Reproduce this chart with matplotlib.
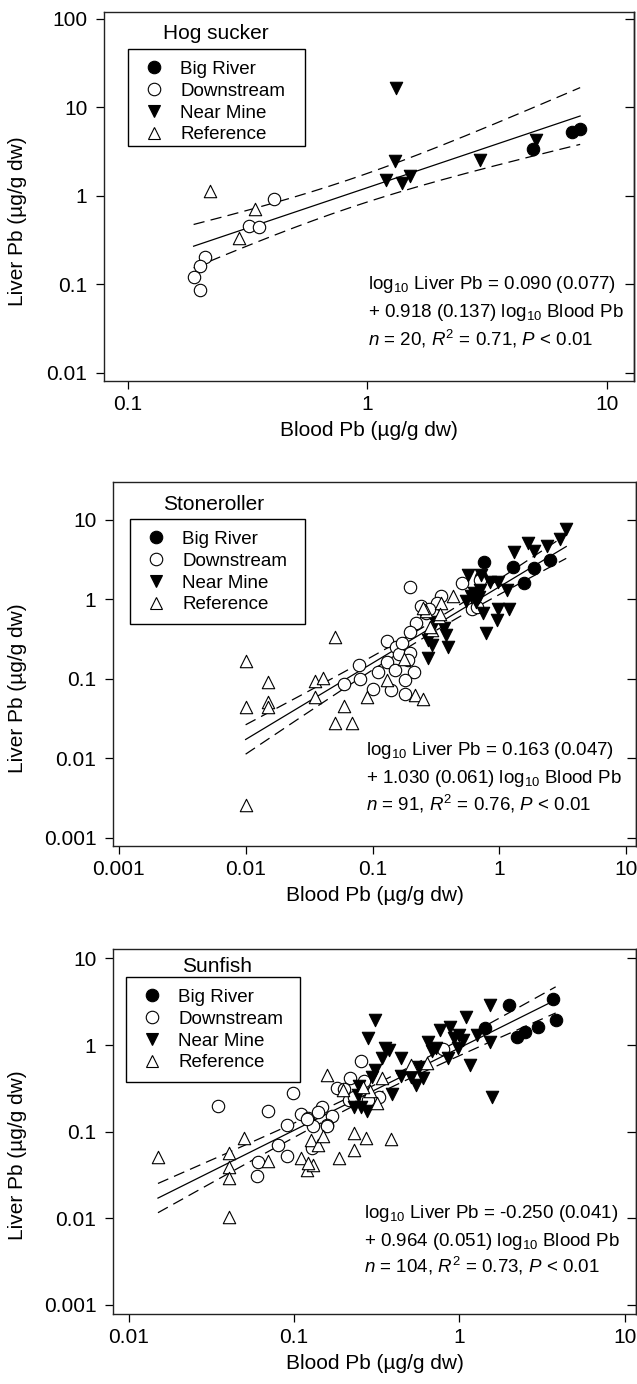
import numpy as np
import matplotlib
matplotlib.use("Agg")
import matplotlib.pyplot as plt
from matplotlib.lines import Line2D
from matplotlib.patches import Rectangle
from matplotlib.ticker import FixedLocator, FuncFormatter, NullLocator

plt.rcParams["font.family"] = ["Liberation Sans", "DejaVu Sans"]
plt.rcParams["mathtext.fontset"] = "custom"
plt.rcParams["mathtext.rm"] = "Liberation Sans"
plt.rcParams["mathtext.it"] = "Liberation Sans:italic"

# ---- Hog sucker
hog_big_x = [7.15, 7.73, 4.91]
hog_big_y = [5.18, 5.65, 3.36]
hog_down_x = [0.409, 0.319, 0.351, 0.209, 0.1995, 0.188, 0.1995]
hog_down_y = [0.915, 0.457, 0.438, 0.203, 0.162, 0.120, 0.085]
hog_near_x = [1.315, 1.30, 1.19, 1.39, 1.50, 2.96, 5.06]
hog_near_y = [16.4, 2.48, 1.49, 1.39, 1.65, 2.50, 4.21]
hog_ref_x = [0.22, 0.340, 0.290]
hog_ref_y = [1.14, 0.711, 0.329]

# ---- Stoneroller
sto_big_x = [0.76, 1.28, 1.88, 2.48, 1.55, 0.71]
sto_big_y = [2.95, 2.55, 2.50, 3.08, 1.62, 1.90]
sto_down_x = [0.198, 0.505, 0.706, 0.344, 0.323, 0.611, 0.262, 0.313, 0.221, 0.198,
              0.129, 0.154, 0.161, 0.198, 0.129, 0.151, 0.211, 0.0789, 0.080, 0.060,
              0.1005, 0.139, 0.179, 0.179, 0.17, 0.24, 0.66, 0.11, 0.19, 0.28]
sto_down_y = [1.42, 1.59, 1.75, 1.11, 0.891, 0.748, 0.667, 0.635, 0.508, 0.392,
              0.302, 0.249, 0.205, 0.213, 0.160, 0.129, 0.120, 0.149, 0.099, 0.0859,
              0.0743, 0.0722, 0.0965, 0.0643, 0.28, 0.82, 0.80, 0.12, 0.17, 0.75]
sto_near_x = [3.36, 2.99, 2.39, 1.67, 1.86, 1.31, 0.566, 0.716, 0.84, 0.98,
              0.631, 0.694, 0.651, 1.15, 0.739, 0.98, 1.19, 0.953, 0.787, 0.313,
              0.367, 0.276, 0.379, 0.392, 0.276, 0.294, 0.70, 0.60, 0.55]
sto_near_y = [7.6, 5.69, 4.69, 5.17, 4.06, 3.98, 2.02, 2.02, 1.67, 1.67,
              1.19, 1.08, 0.935, 1.29, 0.667, 0.748, 0.748, 0.549, 0.380, 0.523,
              0.431, 0.308, 0.356, 0.253, 0.181, 0.266, 1.30, 1.10, 0.95]
sto_ref_x = [0.0100, 0.0100, 0.0100, 0.0150, 0.0150, 0.0150, 0.0502, 0.035, 0.0404, 0.035,
             0.060, 0.0502, 0.0695, 0.0908, 0.1294, 0.177, 0.216, 0.251, 0.264, 0.294,
             0.344, 0.431, 0.284, 0.336, 0.249, 0.34]
sto_ref_y = [0.169, 0.0437, 0.00258, 0.0919, 0.0505, 0.0437, 0.332, 0.0937, 0.103, 0.0595,
             0.0458, 0.028, 0.028, 0.0595, 0.0965, 0.179, 0.0625, 0.0551, 0.713, 0.411,
             0.891, 1.11, 0.447, 0.596, 0.778, 0.655]

# ---- Sunfish
sun_big_x = [3.69, 3.82, 2.0, 1.42, 2.23, 2.5, 2.97]
sun_big_y = [3.44, 1.96, 2.87, 1.58, 1.24, 1.43, 1.60]
sun_down_x = [0.0347, 0.0988, 0.0695, 0.090, 0.1095, 0.121, 0.147, 0.169, 0.158, 0.080,
              0.090, 0.0604, 0.0598, 0.252, 0.181, 0.219, 0.264, 0.214, 0.326, 0.79,
              0.130, 0.140, 0.128, 0.278, 0.119, 0.159, 0.20, 0.23]
sun_down_y = [0.200, 0.283, 0.171, 0.120, 0.161, 0.143, 0.192, 0.150, 0.120, 0.0708,
              0.0529, 0.0443, 0.0306, 0.655, 0.317, 0.413, 0.388, 0.233, 0.254, 0.90,
              0.116, 0.168, 0.064, 0.233, 0.140, 0.117, 0.31, 0.25]
sun_near_x = [0.308, 0.281, 0.355, 0.375, 0.443, 0.342, 0.308, 0.297, 0.246, 0.244,
              0.229, 0.255, 0.277, 0.389, 0.443, 0.546, 0.600, 0.573, 0.643, 0.723,
              0.766, 0.873, 0.852, 1.00, 1.10, 0.98, 1.16, 1.27, 1.53, 1.53,
              1.57, 0.509, 0.93, 1.05, 0.68]
sun_near_y = [1.97, 1.21, 0.914, 0.875, 0.702, 0.702, 0.515, 0.424, 0.337, 0.266,
              0.191, 0.191, 0.171, 0.273, 0.44, 0.347, 0.413, 0.562, 1.09, 0.914,
              1.49, 1.63, 0.702, 1.30, 2.12, 0.914, 0.588, 1.30, 2.88, 1.09,
              0.254, 0.432, 1.2, 1.15, 0.85]
sun_ref_x = [0.015, 0.0403, 0.0403, 0.0403, 0.0403, 0.0494, 0.0695, 0.110, 0.119, 0.130,
             0.127, 0.140, 0.188, 0.229, 0.231, 0.272, 0.388, 0.159, 0.198, 0.289,
             0.319, 0.508, 0.64, 0.338, 0.150, 0.26, 0.122]
sun_ref_y = [0.0515, 0.0102, 0.0563, 0.0395, 0.0289, 0.0839, 0.0455, 0.0492, 0.036, 0.0412,
             0.080, 0.0703, 0.0492, 0.0615, 0.096, 0.0839, 0.0824, 0.454, 0.304, 0.296,
             0.213, 0.592, 0.62, 0.415, 0.088, 0.33, 0.0435]

sites = ["Big River", "Downstream", "Near Mine", "Reference"]
markers = ["o", "o", "v", "^"]
fills = ["black", "white", "black", "white"]

titles = ["Hog sucker", "Stoneroller", "Sunfish"]
eq_lines = [
    ["log$_{10}$ Liver Pb = 0.090 (0.077)",
     "+ 0.918 (0.137) log$_{10}$ Blood Pb",
     "$n$ = 20, $R^2$ = 0.71, $P$ < 0.01"],
    ["log$_{10}$ Liver Pb = 0.163 (0.047)",
     "+ 1.030 (0.061) log$_{10}$ Blood Pb",
     "$n$ = 91, $R^2$ = 0.76, $P$ < 0.01"],
    ["log$_{10}$ Liver Pb = -0.250 (0.041)",
     "+ 0.964 (0.051) log$_{10}$ Blood Pb",
     "$n$ = 104, $R^2$ = 0.73, $P$ < 0.01"],
]
xticks = [[0.1, 1, 10], [0.001, 0.01, 0.1, 1, 10], [0.01, 0.1, 1, 10]]
yticks = [[0.01, 0.1, 1, 10, 100], [0.001, 0.01, 0.1, 1, 10], [0.001, 0.01, 0.1, 1, 10]]
t_crit = [2.101, 1.987, 1.983]

panels = [
    [(hog_big_x, hog_big_y), (hog_down_x, hog_down_y), (hog_near_x, hog_near_y), (hog_ref_x, hog_ref_y)],
    [(sto_big_x, sto_big_y), (sto_down_x, sto_down_y), (sto_near_x, sto_near_y), (sto_ref_x, sto_ref_y)],
    [(sun_big_x, sun_big_y), (sun_down_x, sun_down_y), (sun_near_x, sun_near_y), (sun_ref_x, sun_ref_y)],
]

# layout in figure pixels
W, H = 637, 1384
layout = [
    dict(box=(104, 634, 12, 381), xl=(-1.100, 1.113), yl=(-2.094, 2.0745),
         title=(163, 39.3), leg=(128, 305, 49, 146), eq=(368, [289.3, 316.7, 345]), ylab=(27, 221)),
    dict(box=(113, 636, 482, 846), xl=(-3.045, 1.076), yl=(-3.105, 1.475),
         title=(163, 510), leg=(130, 305, 519, 624), eq=(366, [755, 783.3, 811]), ylab=(27, 688)),
    dict(box=(113, 636, 949, 1314), xl=(-2.096, 1.068), yl=(-3.106, 1.109),
         title=(182, 972), leg=(126, 300, 977, 1082), eq=(364, [1218.3, 1246, 1272.7]), ylab=(27, 1155)),
]


def fit_band(xs, ys, t):
    lx, ly = np.log10(xs), np.log10(ys)
    b1, b0 = np.polyfit(lx, ly, 1)
    n = len(lx)
    s = np.sqrt(np.sum((ly - (b0 + b1 * lx)) ** 2) / (n - 2))
    g = np.linspace(lx.min(), lx.max(), 200)
    fit = b0 + b1 * g
    half = t * s * np.sqrt(1 / n + (g - lx.mean()) ** 2 / np.sum((lx - lx.mean()) ** 2))
    return 10 ** g, 10 ** fit, 10 ** (fit - half), 10 ** (fit + half)


fig = plt.figure(figsize=(W / 100, H / 100), dpi=100)
fmt = FuncFormatter(lambda v, p: f"{v:g}")

for i, lay in enumerate(layout):
    l, r, t, b = lay["box"]
    ax = fig.add_axes([l / W, 1 - b / H, (r - l) / W, (b - t) / H])
    fx = lambda x: (x - l) / (r - l)
    fy = lambda y: (b - y) / (b - t)

    ax.set_xscale("log")
    ax.set_yscale("log")
    ax.set_xlim(10 ** lay["xl"][0], 10 ** lay["xl"][1])
    ax.set_ylim(10 ** lay["yl"][0], 10 ** lay["yl"][1])

    allx = np.concatenate([np.array(p[0], float) for p in panels[i]])
    ally = np.concatenate([np.array(p[1], float) for p in panels[i]])
    gx, fit, lo, hi = fit_band(allx, ally, t_crit[i])
    ax.plot(gx, fit, color="black", lw=0.9, zorder=2)
    for band in (lo, hi):
        ax.plot(gx, band, color="black", lw=0.9, dashes=(9, 5), zorder=2)

    for (px, py), name, m, fc in zip(panels[i], sites, markers, fills):
        ax.scatter(px, py, s=80, marker=m, facecolor=fc, edgecolor="black",
                   linewidth=0.8, zorder=3, label=name)

    for sp in ax.spines.values():
        sp.set_linewidth(1.0)
        sp.set_color("#222222")
    ax.xaxis.set_major_locator(FixedLocator(xticks[i]))
    ax.yaxis.set_major_locator(FixedLocator(yticks[i]))
    ax.xaxis.set_minor_locator(NullLocator())
    ax.yaxis.set_minor_locator(NullLocator())
    ax.xaxis.set_major_formatter(fmt)
    ax.yaxis.set_major_formatter(fmt)
    ax.tick_params(axis="x", direction="out", length=5.5, width=0.9, pad=4.5, labelsize=15)
    ax.tick_params(axis="y", direction="out", length=6, width=0.9, pad=6, labelsize=15)
    sec = ax.secondary_yaxis("right")
    sec.yaxis.set_major_locator(FixedLocator(yticks[i]))
    sec.yaxis.set_minor_locator(NullLocator())
    sec.tick_params(direction="in", length=6.5, width=0.9, labelright=False)
    sec.spines["right"].set_linewidth(1.0)

    ax.set_xlabel("Blood Pb (µg/g dw)", fontsize=15, labelpad=5)
    ax.set_ylabel("Liver Pb (µg/g dw)", fontsize=15)
    ax.yaxis.set_label_coords(fx(lay["ylab"][0]), fy(lay["ylab"][1]))

    ax.text(fx(lay["title"][0]), fy(lay["title"][1]), titles[i], transform=ax.transAxes,
            fontsize=15, ha="left", va="baseline")

    ll, lr, lt, lb = lay["leg"]
    handles = [Line2D([], [], linestyle="none", marker=m, markersize=9,
                      markerfacecolor=fc, markeredgecolor="black", markeredgewidth=0.8)
               for m, fc in zip(markers, fills)]
    ax.legend(handles, sites, loc="upper left", bbox_to_anchor=(fx(ll), fy(lt)),
              frameon=False, fontsize=13.5, borderpad=0.63, handlelength=1.56,
              handletextpad=0.61, labelspacing=0.25, borderaxespad=0)
    ax.add_patch(Rectangle((fx(ll), fy(lb)), fx(lr) - fx(ll), fy(lt) - fy(lb),
                           transform=ax.transAxes, fill=False, edgecolor="black",
                           lw=1.0, zorder=5))

    ex, eys = lay["eq"]
    for line, ey in zip(eq_lines[i], eys):
        ax.text(fx(ex), fy(ey), line, transform=ax.transAxes, fontsize=13.5,
                ha="left", va="baseline")

fig.savefig("out.png", dpi=100)
